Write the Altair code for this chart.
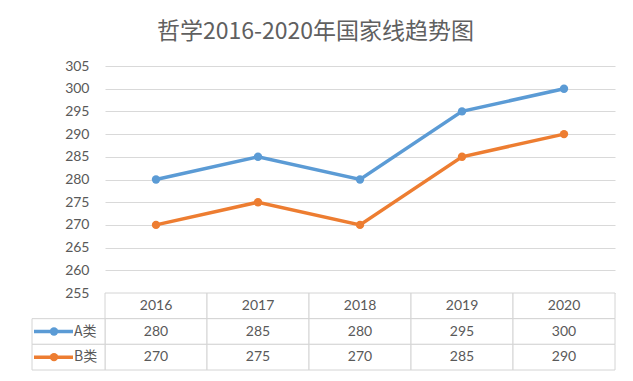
import altair as alt
import pandas as pd

years = ["2016", "2017", "2018", "2019", "2020"]
a_vals = [280, 285, 280, 295, 300]
b_vals = [270, 275, 270, 285, 290]
series = ["A类", "B类"]
colors = ["#5b9bd5", "#ed7d31"]
title_text = "哲学2016-2020年国家线趋势图"
y_ticks = list(range(255, 306, 5))

rows = []
for yr, a, b in zip(years, a_vals, b_vals):
    rows.append({"year": yr, "series": series[0], "value": a})
    rows.append({"year": yr, "series": series[1], "value": b})
df = pd.DataFrame(rows)

TXT = "#595959"
GRID = "#d9d9d9"
FONT = "Lato"

color_scale = alt.Scale(domain=series, range=colors)
color_enc = alt.Color("series:N", scale=color_scale, legend=None)

x_pt = alt.X("year:O", scale=alt.Scale(type="point", padding=0.5, domain=years), axis=None)
y_q = alt.Y(
    "value:Q",
    scale=alt.Scale(domain=[255, 305], nice=False, zero=False),
    axis=alt.Axis(values=y_ticks, grid=True, gridColor=GRID, domain=False, ticks=False,
                  labelColor=TXT, labelFontSize=14, labelFont=FONT, labelPadding=16, title=None),
)

base = alt.Chart(df)
lines = base.mark_line(strokeWidth=3.5).encode(x=x_pt, y=y_q, color=color_enc)
pts = base.mark_point(filled=True, size=70, opacity=1).encode(x=x_pt, y=y_q, color=color_enc)
top = (lines + pts).properties(width=510, height=227)

# data table under the plot
hdr = pd.DataFrame({"year": years, "row": "hdr", "label": years})
cells = pd.DataFrame({"year": df["year"], "row": df["series"], "label": df["value"].astype(str)})
tbl = pd.concat([hdr, cells], ignore_index=True)
row_dom = ["hdr"] + series

x_band = alt.X("year:O", scale=alt.Scale(type="band", paddingInner=0, paddingOuter=0, domain=years), axis=None)
y_band = alt.Y("row:N", scale=alt.Scale(domain=row_dom, paddingInner=0, paddingOuter=0), axis=None)
x_band_c = alt.X("year:O", bandPosition=0.5, scale=alt.Scale(type="band", paddingInner=0, paddingOuter=0, domain=years), axis=None)
y_band_c = alt.Y("row:N", bandPosition=0.5, scale=alt.Scale(domain=row_dom, paddingInner=0, paddingOuter=0), axis=None)

tb = alt.Chart(tbl)
rects = tb.mark_rect(fill="white", stroke="#d4d4d4", strokeWidth=1).encode(x=x_band, y=y_band)
texts = tb.mark_text(fontSize=14, font=FONT, color=TXT).encode(x=x_band_c, y=y_band_c, text="label:N")

leg = alt.Chart(pd.DataFrame({"row": series, "series": series}))
leg_rect = leg.mark_rect(fill="white", stroke="#d4d4d4", strokeWidth=1).encode(
    x=alt.value(-73), x2=alt.value(0), y=y_band)
leg_rule = leg.mark_rule(strokeWidth=3.5).encode(
    x=alt.value(-71), x2=alt.value(-32), y=y_band_c, color=color_enc)
leg_pt = leg.mark_point(filled=True, size=70, opacity=1).encode(
    x=alt.value(-51), y=y_band_c, color=color_enc)
leg_txt = leg.mark_text(fontSize=14, font="Noto Sans CJK SC", color=TXT, align="left").encode(
    x=alt.value(-31), y=y_band_c, text="row:N")

table = alt.layer(rects, texts, leg_rect, leg_rule, leg_pt, leg_txt).properties(width=510, height=77)

chart = (
    alt.vconcat(top, table, spacing=0, bounds="flush")
    .resolve_scale(x="independent", y="independent", color="shared")
    .properties(
        title=alt.TitleParams(title_text, fontSize=23, font="Noto Sans CJK SC", fontWeight="normal",
                              color="#606060", anchor="middle", offset=15, dx=-8),
        padding={"left": 23, "top": 13, "right": 5, "bottom": 5},
    )
    .configure_view(stroke=None)
)

chart.save("out.html", embed_options={"renderer": "svg", "actions": False})
